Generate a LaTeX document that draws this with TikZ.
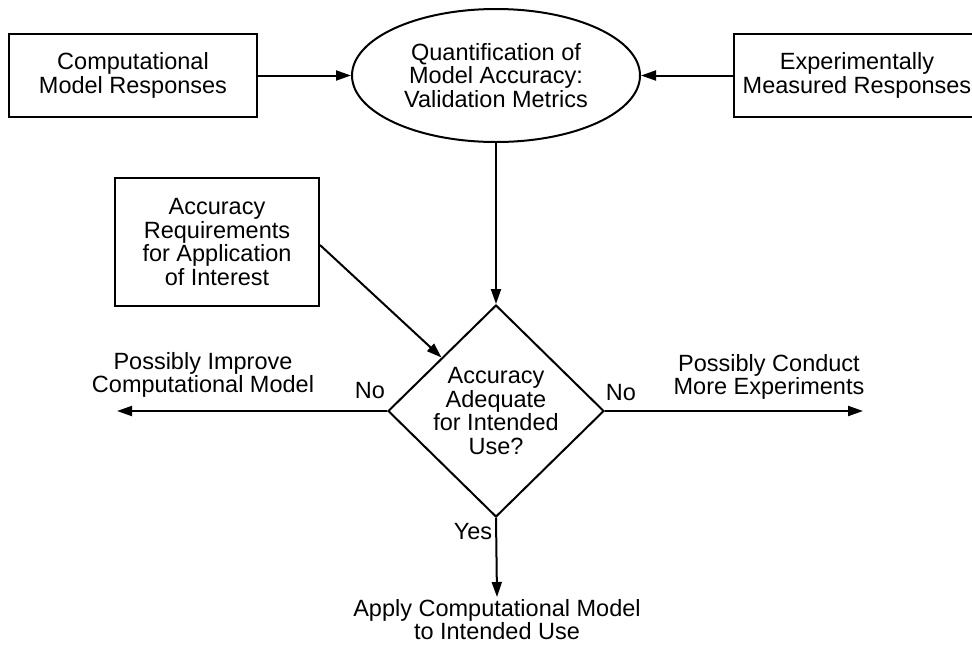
\documentclass[tikz,border=0pt]{standalone}
\usepackage{fontspec}
\setmainfont{Liberation Sans}
\usetikzlibrary{shapes.geometric,arrows.meta,calc}

\tikzset{
  label font/.style={font=\fontsize{23.5}{23.5}\selectfont, align=center},
  box/.style={draw, line width=2pt, rectangle, inner sep=0pt, label font},
  oval/.style={draw, line width=2pt, ellipse, inner sep=0pt, label font},
  decision/.style={draw, line width=2pt, diamond, inner sep=0pt},
  plain/.style={inner sep=2pt, label font},
  flow/.style={line width=2pt, -{Triangle[length=15pt,width=10pt]}},
}

\begin{document}
\begin{tikzpicture}[x=1pt, y=-1pt]
  \useasboundingbox (0,0) rectangle (972,646);
  \fill[white] (0,0) rectangle (972,646);
  \clip (0,0) rectangle (972,646);

  % top row: inputs and the validation metric
  \node[box, minimum width=248pt, minimum height=83pt] (cmr) at (133,75.5)
    {Computational\\Model Responses};
  \node[oval, minimum width=288pt, minimum height=133pt] (qma) at (496,75.5)
    {Quantification of\\Model Accuracy:\\Validation Metrics};
  \node[box, minimum width=246pt, minimum height=83pt] (emr) at (857,75.5)
    {Experimentally\\Measured Responses};

  % accuracy requirements
  \node[box, minimum width=204pt, minimum height=128pt] (req) at (217,242)
    {Accuracy\\Requirements\\for Application\\of Interest};

  % decision
  \node[decision, minimum width=216pt, minimum height=212pt] (dec) at (496,411) {};
  \node[plain] (dectext) at (dec.center)
    {Accuracy\\Adequate\\for Intended\\Use?};

  % outcomes
  \coordinate (leftend) at (117,411);
  \coordinate (rightend) at (863,411);
  \node[plain] (improve) at (203,375) {Possibly Improve\\Computational Model};
  \node[plain] (conduct) at (769,377) {Possibly Conduct\\More Experiments};
  \node[plain, anchor=north] (apply) at (497,597)
    {Apply Computational Model\\to Intended Use};

  % branch labels
  \node[plain] (noleft) at (370,391) {No};
  \node[plain] (noright) at (621,393) {No};
  \node[plain] (yes) at (473,532) {Yes};

  % connectors
  \draw[flow] (cmr.east) -- (qma.west);
  \draw[flow] (emr.west) -- (qma.east);
  \draw[flow] (qma.south) -- (dec.north);
  \draw[flow] ($(req.east)+(0,3)$) -- ($(dec.north)!0.5!(dec.west)$);
  \draw[flow] (dec.west) -- (leftend);
  \draw[flow] (dec.east) -- (rightend);
  \draw[flow] (dec.south) -- (apply.north);
\end{tikzpicture}
\end{document}
